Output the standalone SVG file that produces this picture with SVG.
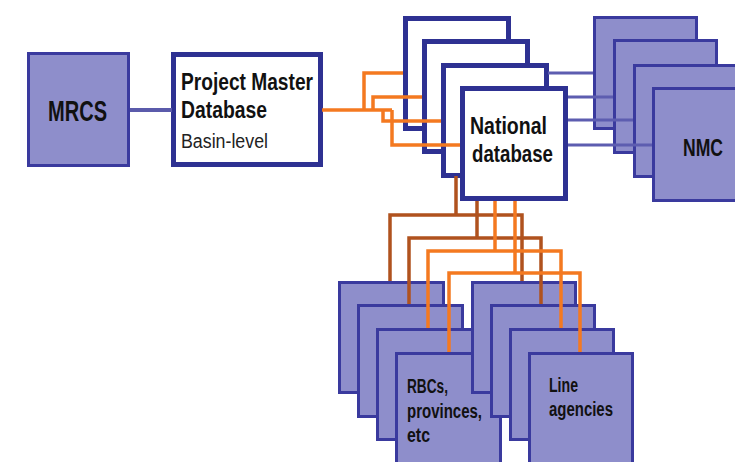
<svg xmlns="http://www.w3.org/2000/svg" width="735" height="462" viewBox="0 0 735 462">
<style>
.pbox{fill:#8e8ecb;stroke:#3a3a9e;stroke-width:3}
.wbox{fill:#ffffff;stroke:#2e3192;stroke-width:5}
.t{font-family:"Liberation Sans",Arial,sans-serif;font-weight:bold;fill:#111}
.r{font-family:"Liberation Sans",Arial,sans-serif;font-weight:normal;fill:#222}
.or{fill:none;stroke:#f47920;stroke-width:3.5}
.br{fill:none;stroke:#b0521e;stroke-width:3.5}
.pu{fill:none;stroke:#5d5db0;stroke-width:3}
</style>
<rect width="735" height="462" fill="#ffffff"/>
<g id="mrcs">
<rect class="pbox" x="28.5" y="53.5" width="100" height="112"/>
<text class="t" x="48" y="121" font-size="29" textLength="59" lengthAdjust="spacingAndGlyphs">MRCS</text>
</g>
<g id="pmd">
<rect class="wbox" x="173.5" y="54.5" width="147" height="110"/>
<text class="t" x="181" y="90" font-size="23" textLength="132" lengthAdjust="spacingAndGlyphs">Project Master</text>
<text class="t" x="181" y="118" font-size="23" textLength="86" lengthAdjust="spacingAndGlyphs">Database</text>
<text class="r" x="181" y="148" font-size="20" textLength="87" lengthAdjust="spacingAndGlyphs">Basin-level</text>
</g>
<g id="national">
<rect class="wbox" x="405.5" y="18.5" width="103" height="110"/>
<rect class="wbox" x="424.5" y="41.5" width="103" height="110"/>
<rect class="wbox" x="443.5" y="65.5" width="103" height="110"/>
<rect class="wbox" x="462.5" y="88.5" width="103" height="110"/>
<text class="t" x="470" y="134" font-size="24" textLength="77" lengthAdjust="spacingAndGlyphs">National</text>
<text class="t" x="472" y="162" font-size="24" textLength="81" lengthAdjust="spacingAndGlyphs">database</text>
</g>
<g id="nmc">
<rect class="pbox" x="594.5" y="17.5" width="102" height="111"/>
<rect class="pbox" x="614.5" y="40.5" width="102" height="112"/>
<rect class="pbox" x="634.5" y="65.5" width="102" height="111"/>
<rect class="pbox" x="653.5" y="88.5" width="102" height="112"/>
<text class="t" x="683" y="156" font-size="24" textLength="40" lengthAdjust="spacingAndGlyphs">NMC</text>
</g>
<g id="rbcs">
<rect class="pbox" x="339.5" y="282.5" width="104" height="110"/>
<rect class="pbox" x="358.5" y="305.5" width="104" height="111"/>
<rect class="pbox" x="377.5" y="329.5" width="104" height="110"/>
<rect class="pbox" x="396.5" y="353.5" width="104" height="111"/>
<text class="t" x="407" y="393" font-size="20" textLength="41" lengthAdjust="spacingAndGlyphs">RBCs,</text>
<text class="t" x="407" y="418" font-size="20" textLength="75" lengthAdjust="spacingAndGlyphs">provinces,</text>
<text class="t" x="407" y="442" font-size="20" textLength="23" lengthAdjust="spacingAndGlyphs">etc</text>
</g>
<g id="line-agencies">
<rect class="pbox" x="472.5" y="282.5" width="103" height="110"/>
<rect class="pbox" x="491.5" y="305.5" width="103" height="111"/>
<rect class="pbox" x="510.5" y="329.5" width="103" height="110"/>
<rect class="pbox" x="529.5" y="353.5" width="103" height="111"/>
<text class="t" x="549" y="392" font-size="20" textLength="29" lengthAdjust="spacingAndGlyphs">Line</text>
<text class="t" x="549" y="416" font-size="20" textLength="64" lengthAdjust="spacingAndGlyphs">agencies</text>
</g>
<g id="connectors">
<path d="M130,110 H172" fill="none" stroke="#5b5bab" stroke-width="4"/>
<path class="or" d="M322,110 H392"/>
<path class="or" d="M364,110 V73 H403"/>
<path class="or" d="M373,110 V97 H422"/>
<path class="or" d="M383,110 V121 H441"/>
<path class="or" d="M392,110 V145 H460"/>
<path class="pu" d="M548,73 H593"/>
<path class="pu" d="M568,97 H613"/>
<path class="pu" d="M568,120 H633"/>
<path class="pu" d="M568,145 H652"/>
<path class="br" d="M456,176 V215"/>
<path class="br" d="M390,281 V215 H522 V281"/>
<path class="br" d="M477,201 V238"/>
<path class="br" d="M409,304 V238 H541 V304"/>
<path class="or" d="M495,201 V251"/>
<path class="or" d="M428,328 V251 H561 V328"/>
<path class="or" d="M515,201 V273"/>
<path class="or" d="M449,352 V273 H580 V352"/>
</g>
</svg>
